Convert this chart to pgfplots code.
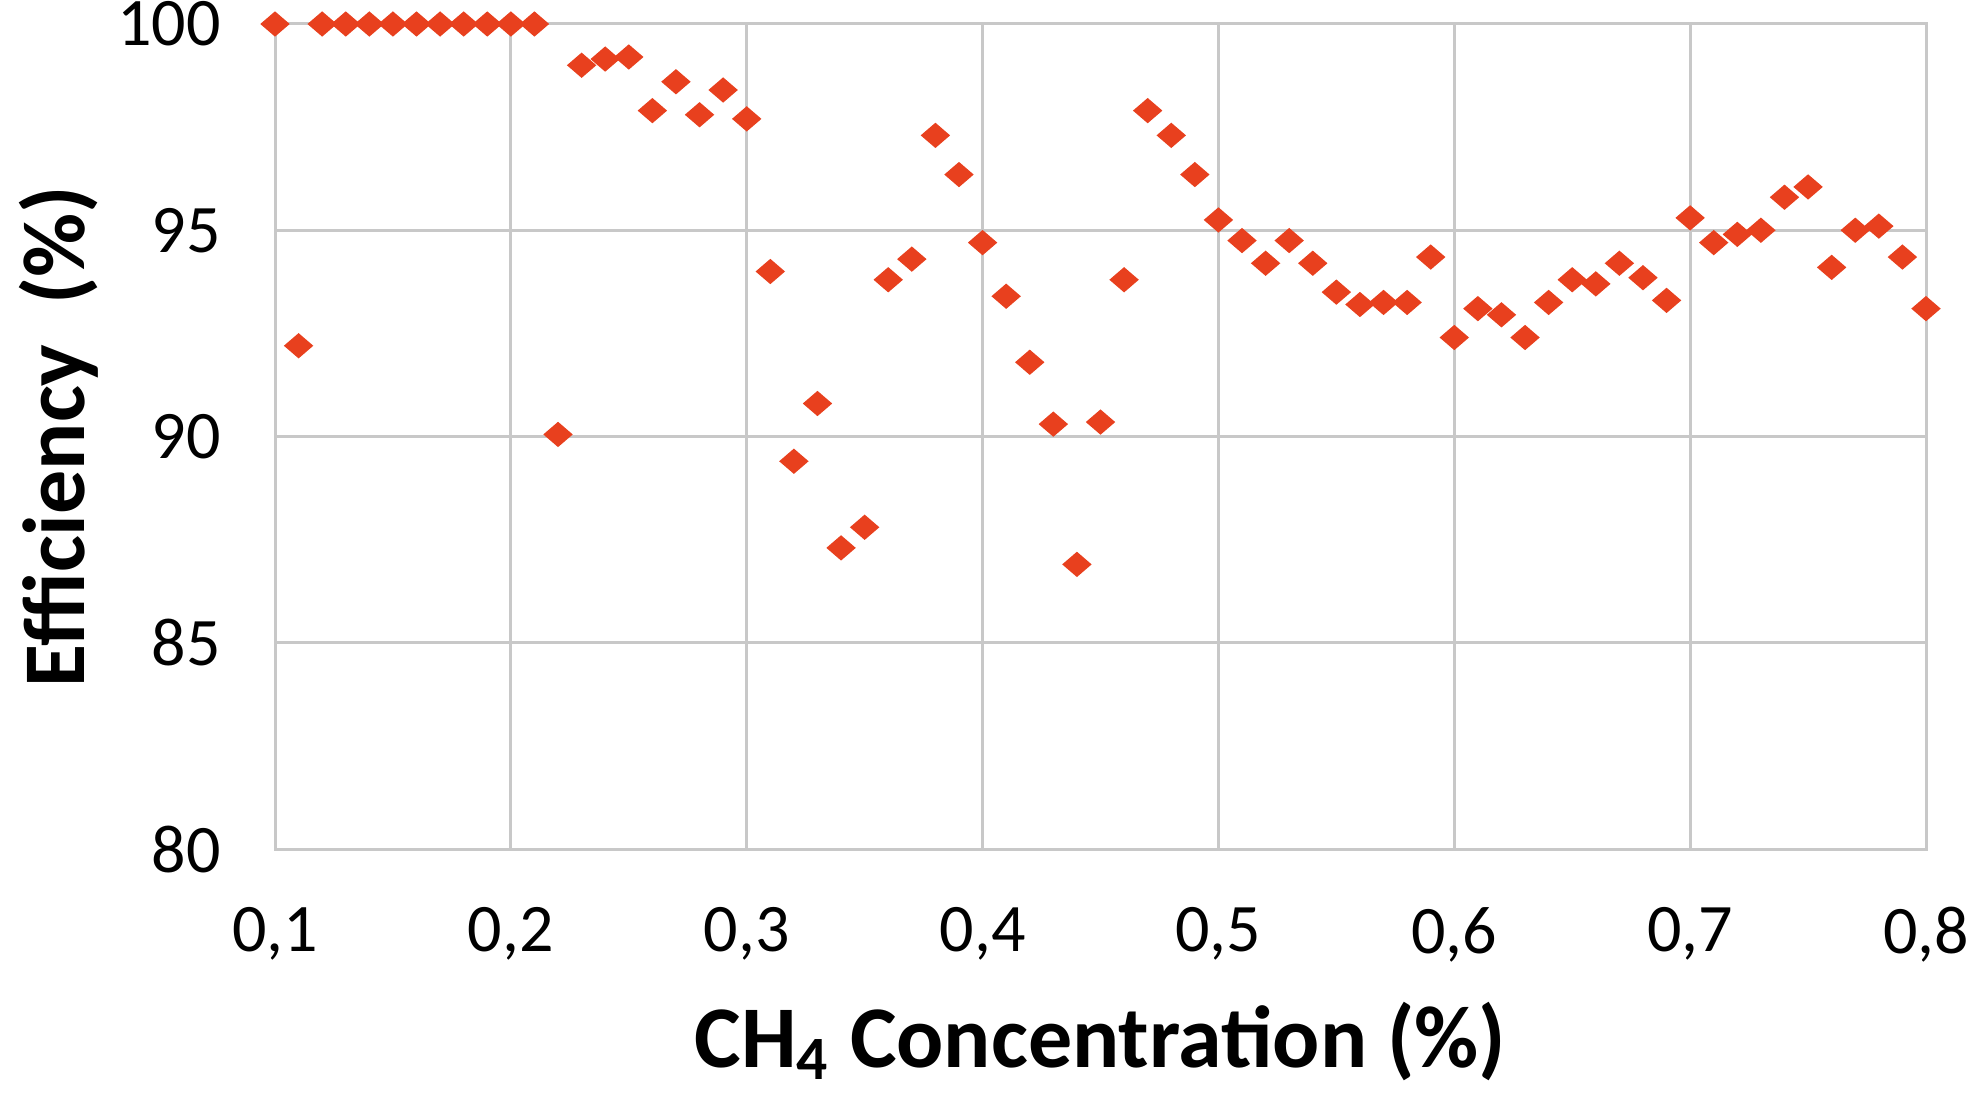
\documentclass[border=0pt]{standalone}
\usepackage{pgfplots}
\pgfplotsset{compat=1.18}
\usepackage{fontspec}
\setmainfont{Carlito}
\definecolor{markred}{RGB}{232,64,30}
\definecolor{gridgray}{RGB}{200,200,200}
\begin{document}
\begin{tikzpicture}
\begin{axis}[
    name=ax,
    width=412.75pt, height=206.25pt,
    scale only axis,
    xmin=0.1, xmax=0.8,
    ymin=80, ymax=100,
    xtick={0.1,0.2,0.3,0.4,0.5,0.6,0.7,0.8},
    ytick={80,85,90,95,100},
    grid=major,
    grid style={gridgray, line width=0.75pt},
    axis line style={gridgray, line width=0.75pt},
    major tick length=0pt,
    tick label style={font=\fontsize{17}{20}\selectfont},
    /pgf/number format/assume math mode=true,
    xticklabel style={/pgf/number format/.cd, fixed, fixed zerofill, precision=1, use comma, /tikz/.cd, yshift=-11pt},
    yticklabel style={xshift=-10pt},
    xlabel={\bfseries CH\textsubscript{4} Concentration (\%)},
    ylabel={\bfseries Efficiency~~(\%)},
    label style={font=\fontsize{22}{26}\selectfont},
    xlabel style={yshift=-3pt},
    ylabel style={yshift=-2pt},
    clip=false,
]
\addplot[only marks, mark=diamond*, mark size=2.9pt, color=markred,
    mark options={xscale=1.55}] coordinates {
(0.10,100) (0.11,92.2) (0.12,100) (0.13,100) (0.14,100) (0.15,100)
(0.16,100) (0.17,100) (0.18,100) (0.19,100) (0.20,100) (0.21,100)
(0.22,90.05) (0.23,99.0) (0.24,99.15) (0.25,99.2) (0.26,97.9) (0.27,98.6)
(0.28,97.8) (0.29,98.4) (0.30,97.7) (0.31,94.0) (0.32,89.4) (0.33,90.8)
(0.34,87.3) (0.35,87.8) (0.36,93.8) (0.37,94.3) (0.38,97.3) (0.39,96.35)
(0.40,94.7) (0.41,93.4) (0.42,91.8) (0.43,90.3) (0.44,86.9) (0.45,90.35)
(0.46,93.8) (0.47,97.9) (0.48,97.3) (0.49,96.35) (0.50,95.25) (0.51,94.75)
(0.52,94.2) (0.53,94.75) (0.54,94.2) (0.55,93.5) (0.56,93.2) (0.57,93.25)
(0.58,93.25) (0.59,94.35) (0.60,92.4) (0.61,93.1) (0.62,92.95) (0.63,92.4)
(0.64,93.25) (0.65,93.8) (0.66,93.7) (0.67,94.2) (0.68,93.85) (0.69,93.3)
(0.70,95.3) (0.71,94.7) (0.72,94.9) (0.73,95.0) (0.74,95.8) (0.75,96.05)
(0.76,94.1) (0.77,95.0) (0.78,95.1) (0.79,94.35) (0.80,93.1)
};
\end{axis}
\pgfresetboundingbox
\path[use as bounding box] ([shift={(-68.75pt,-61pt)}]ax.south west) rectangle ([shift={(14pt,6pt)}]ax.north east);
\end{tikzpicture}
\end{document}
